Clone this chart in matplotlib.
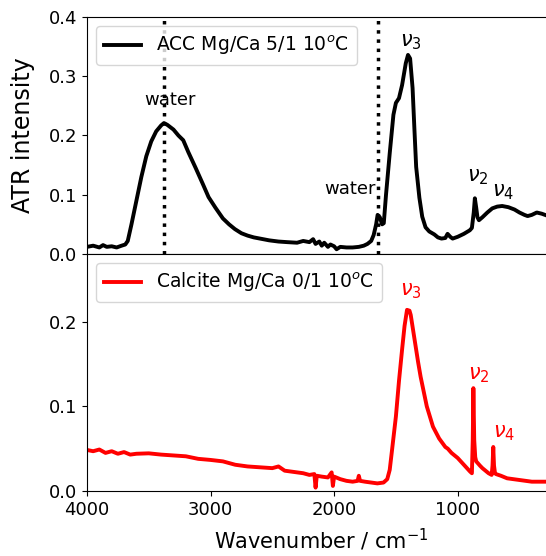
import matplotlib.pyplot as plt
import numpy as np

# ACC Mg/Ca 5/1, 10 C
acc_wn = [4000, 3950, 3900, 3870, 3840, 3800, 3760, 3720, 3690, 3670, 3640, 3600, 3560,
          3520, 3480, 3440, 3400, 3377, 3350, 3300, 3260, 3221, 3180, 3120, 3060, 3016,
          2960, 2900, 2850, 2803, 2750, 2700, 2650, 2600, 2525, 2450, 2380, 2300, 2250,
          2200, 2170, 2150, 2120, 2100, 2080, 2050, 2030, 2000, 1980, 1950, 1900, 1850,
          1800, 1760, 1730, 1700, 1680, 1660, 1648, 1630, 1612, 1598, 1580, 1550, 1520,
          1500, 1475, 1450, 1420, 1402, 1385, 1365, 1350, 1336, 1310, 1287, 1260, 1230,
          1189, 1160, 1131, 1100, 1082, 1060, 1041, 1000, 950, 902, 885, 870, 861, 850,
          840, 828, 800, 760, 720, 680, 640, 590, 540, 500, 460, 434, 400, 360, 320, 280, 240]
acc_ab = [0.012, 0.014, 0.011, 0.015, 0.012, 0.013, 0.011, 0.014, 0.016, 0.022, 0.05, 0.09, 0.13,
          0.165, 0.19, 0.207, 0.217, 0.221, 0.218, 0.21, 0.2, 0.192, 0.172, 0.145, 0.117, 0.096,
          0.078, 0.06, 0.05, 0.042, 0.035, 0.031, 0.028, 0.026, 0.023, 0.021, 0.02, 0.019, 0.022,
          0.02, 0.025, 0.017, 0.021, 0.014, 0.019, 0.012, 0.016, 0.013, 0.008, 0.012, 0.011, 0.011,
          0.012, 0.014, 0.017, 0.022, 0.032, 0.05, 0.066, 0.062, 0.05, 0.052, 0.1, 0.17, 0.235,
          0.255, 0.263, 0.285, 0.322, 0.336, 0.33, 0.28, 0.21, 0.147, 0.095, 0.063, 0.045, 0.038,
          0.033, 0.028, 0.026, 0.027, 0.034, 0.029, 0.026, 0.029, 0.034, 0.04, 0.044, 0.07, 0.094, 0.078,
          0.062, 0.057, 0.062, 0.07, 0.077, 0.08, 0.081, 0.079, 0.075, 0.07, 0.066, 0.064, 0.066,
          0.07, 0.068, 0.065, 0.067]

# Calcite Mg/Ca 0/1, 10 C
cal_wn = [4000, 3950, 3900, 3850, 3800, 3750, 3700, 3650, 3600, 3500, 3400, 3300, 3200, 3100,
          3000, 2900, 2850, 2800, 2700, 2600, 2500, 2450, 2400, 2300, 2250, 2200, 2160, 2150,
          2140, 2100, 2050, 2020, 2010, 2000, 1950, 1900, 1850, 1810, 1800, 1790, 1750, 1700,
          1650, 1600, 1570, 1550, 1530, 1500, 1475, 1450, 1430, 1410, 1390, 1380, 1350, 1320,
          1300, 1250, 1200, 1150, 1100, 1080, 1050, 1000, 950, 900, 885, 878, 873, 866, 858,
          850, 820, 800, 750, 725, 718, 712, 706, 698, 690, 650, 600, 500, 400, 300, 240]
cal_ab = [0.0485, 0.047, 0.049, 0.045, 0.047, 0.044, 0.046, 0.043, 0.044, 0.0445, 0.043, 0.042,
          0.041, 0.038, 0.0367, 0.035, 0.033, 0.031, 0.029, 0.028, 0.027, 0.029, 0.024, 0.022,
          0.021, 0.019, 0.02, 0.004, 0.018, 0.017, 0.016, 0.022, 0.006, 0.017, 0.014, 0.012,
          0.011, 0.012, 0.018, 0.012, 0.011, 0.01, 0.009, 0.01, 0.014, 0.025, 0.05, 0.088,
          0.13, 0.167, 0.195, 0.214, 0.213, 0.208, 0.18, 0.152, 0.135, 0.1, 0.076, 0.062, 0.052,
          0.05, 0.045, 0.039, 0.031, 0.023, 0.021, 0.06, 0.1215, 0.06, 0.04, 0.035, 0.03, 0.027,
          0.021, 0.019, 0.03, 0.052, 0.03, 0.021, 0.02, 0.018, 0.015, 0.013, 0.011, 0.011, 0.011]

water_lines = [3377, 1648]

plt.rcParams['font.size'] = 13

fig = plt.figure(figsize=(5.46, 5.56), dpi=100)
ax1 = fig.add_axes([0.1593, 0.5432, 0.86, 0.4262])
ax2 = fig.add_axes([0.1593, 0.1169, 0.86, 0.4263], sharex=ax1)

ax1.plot(acc_wn, acc_ab, color='k', lw=2.8, label='ACC Mg/Ca 5/1 10$^o$C')
for w in water_lines:
    ax1.axvline(w, color='k', ls=':', lw=2.5)
ax1.text(3328, 0.26, 'water', ha='center', va='center')
ax1.text(1664, 0.11, 'water', ha='right', va='center')
ax1.text(1377, 0.358, r'$\nu_3$', ha='center', va='center', fontsize=15)
ax1.text(836, 0.13, r'$\nu_2$', ha='center', va='center', fontsize=15)
ax1.text(631, 0.105, r'$\nu_4$', ha='center', va='center', fontsize=15)
ax1.set_ylim(0, 0.4)
ax1.set_yticks([0.0, 0.1, 0.2, 0.3, 0.4])
ax1.set_ylabel('ATR intensity', fontsize=17)
ax1.yaxis.set_label_coords(-0.11, 0.5)
ax1.tick_params(axis='x', bottom=False, labelbottom=False)
ax1.legend(loc='upper left', fontsize=13.5, handlelength=2)

ax2.plot(cal_wn, cal_ab, color='r', lw=2.8, label='Calcite Mg/Ca 0/1 10$^o$C')
ax2.text(1377, 0.236, r'$\nu_3$', ha='center', va='center', color='r', fontsize=15)
ax2.text(832, 0.137, r'$\nu_2$', ha='center', va='center', color='r', fontsize=15)
ax2.text(627, 0.068, r'$\nu_4$', ha='center', va='center', color='r', fontsize=15)
ax2.set_ylim(0, 0.28)
ax2.set_yticks([0.0, 0.1, 0.2])
ax2.set_xlim(4000, 200)
ax2.set_xticks([4000, 3000, 2000, 1000])
ax2.set_xlabel('Wavenumber / cm$^{-1}$', fontsize=15, labelpad=6)
ax2.legend(loc='upper left', fontsize=13.5, handlelength=2)

fig.savefig('out.png', dpi=100)
